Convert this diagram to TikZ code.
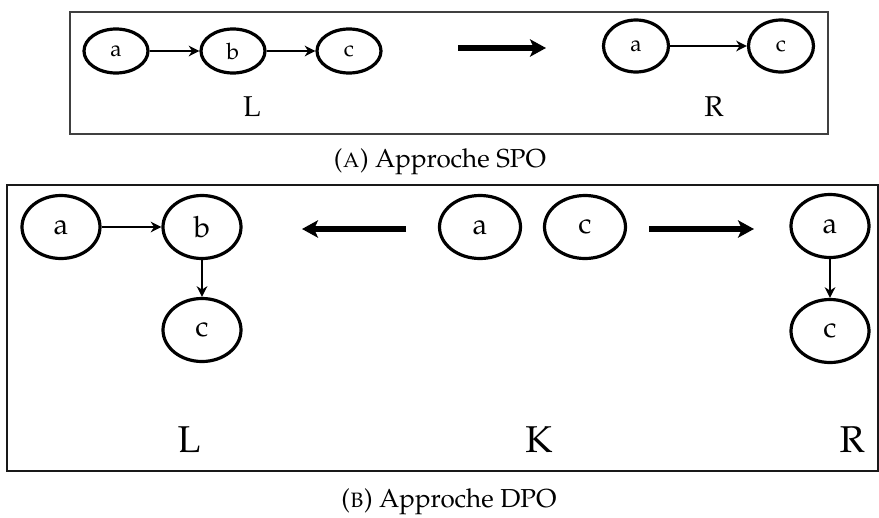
\documentclass[tikz,border=0pt]{standalone}
\usepackage[T1]{fontenc}
\usepackage{mathpazo}
\usetikzlibrary{shapes.geometric,arrows.meta}
\newlength{\pxu}\setlength{\pxu}{0.75pt}
\tikzset{
  nd/.style={ellipse,draw=black,line width=2.4pt,inner sep=0pt},
  ndtop/.style={nd,minimum width=64\pxu,minimum height=44\pxu,font=\fontsize{17}{20}\selectfont},
  ndtopr/.style={nd,minimum width=65\pxu,minimum height=52\pxu,font=\fontsize{17}{20}\selectfont},
  ndbot/.style={nd,minimum width=78\pxu,minimum height=63\pxu,font=\fontsize{22}{26}\selectfont},
  thin/.style={line width=1.8pt,-{Stealth[length=8pt,width=8pt,inset=2.5pt]}},
  big/.style={line width=3.8pt,-{Stealth[length=12pt,width=13pt,inset=3pt]}},
  lbltop/.style={font=\fontsize{21.5}{24}\selectfont},
  lblbot/.style={font=\fontsize{28}{32}\selectfont},
  capt/.style={font=\fontsize{19.5}{22}\selectfont}
}
\begin{document}
\begin{tikzpicture}[x=0.75pt,y=-0.75pt]
\useasboundingbox (0,0) rectangle (879,518);
% top box
\draw[draw=black!75,line width=1pt] (70,12) rectangle (828,134);
\node[ndtop] (ta) at (116,51) {a};
\node[ndtop] (tb) at (233,51) {b};
\node[ndtop] (tc) at (349,51) {c};
\node[ndtopr] (tra) at (636,46) {a};
\node[ndtopr] (trc) at (781,46) {c};
\draw[thin] (ta) -- (tb);
\draw[thin] (tb) -- (tc);
\draw[thin] (tra) -- (trc);
\coordinate (s1) at (458,48);
\coordinate (s2) at (546,48);
\draw[big] (s1) -- (s2);
\node[lbltop] (tL) at (252,107) {L};
\node[lbltop] (tR) at (714,107) {R};
\node[capt] (capA) at (440,162) {(\textsc{a}) Approche SPO};
% bottom box
\draw[draw=black!90,line width=1.3pt] (7,185) rectangle (878,471);
\node[ndbot] (ba) at (61,227) {a};
\node[ndbot] (bb) at (202,227) {b};
\node[ndbot] (bc) at (202,330) {c};
\node[ndbot,minimum width=81\pxu] (ka) at (480,227) {a};
\node[ndbot,minimum width=81\pxu] (kc) at (585,227) {c};
\node[ndbot] (ra) at (830,226) {a};
\node[ndbot] (rc) at (830,331) {c};
\draw[thin] (ba) -- (bb);
\draw[thin] (bb) -- (bc);
\draw[thin] (ra) -- (rc);
\coordinate (l1) at (406,229);
\coordinate (l2) at (302,229);
\coordinate (r1) at (649,229);
\coordinate (r2) at (754,229);
\draw[big] (l1) -- (l2);
\draw[big] (r1) -- (r2);
\node[lblbot] (bL) at (189,440) {L};
\node[lblbot] (bK) at (539,440) {K};
\node[lblbot] (bR) at (852,440) {R};
\node[capt] (capB) at (449,502) {(\textsc{b}) Approche DPO};
\end{tikzpicture}
\end{document}
